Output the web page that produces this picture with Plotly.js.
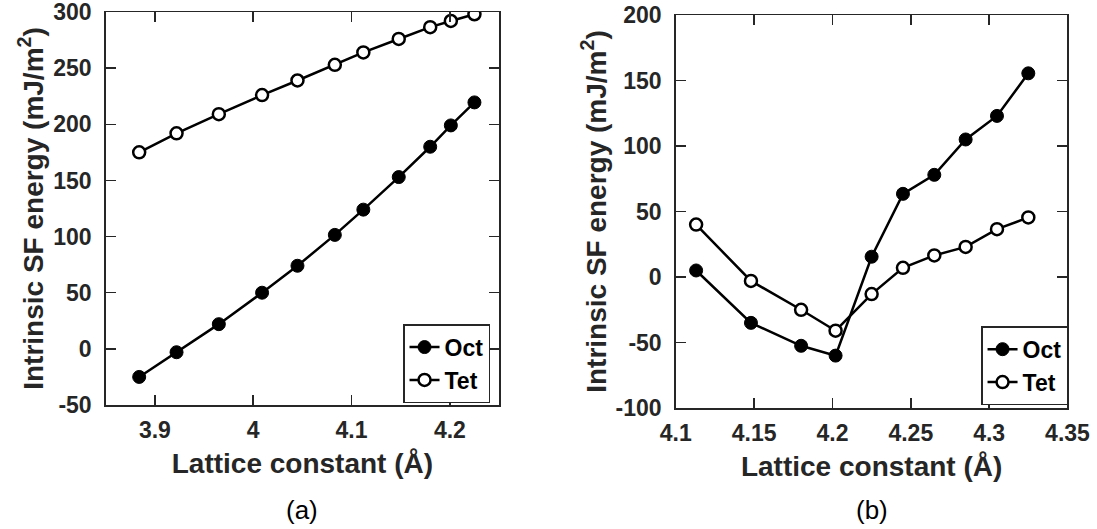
<!DOCTYPE html>
<html><head><meta charset="utf-8">
<script src="https://cdn.plot.ly/plotly-3.0.1.min.js"></script>
<style>html,body{margin:0;padding:0;background:#fff}</style>
</head><body><div id="chart" style="width:1097px;height:529px"></div>
<script>
// Panel (a)
const latticeA = [3.884, 3.922, 3.965, 4.009, 4.045, 4.083, 4.112, 4.148, 4.180, 4.201, 4.225];
const octA = [-25, -3, 22, 50, 74, 101.5, 124, 153, 180, 199, 219.5];
const tetA = [175, 192, 209, 226, 239, 253, 264, 276, 286.5, 292, 298];
// Panel (b)
const latticeB = [4.113, 4.148, 4.180, 4.202, 4.225, 4.245, 4.265, 4.285, 4.305, 4.325];
const octB = [5, -35, -52.5, -60, 15.5, 63.5, 78, 105, 123, 155.5];
const tetB = [40, -3, -25, -41, -13, 7, 16.5, 23, 36.5, 45.5];
const seriesNames = ['Oct', 'Tet'];
const xTickValsA = [3.9, 4, 4.1, 4.2];
const xTickTextA = ['3.9', '4', '4.1', '4.2'];
const yTickValsA = [-50, 0, 50, 100, 150, 200, 250, 300];
const yTickTextA = ['-50', '0', '50', '100', '150', '200', '250', '300'];
const xTickValsB = [4.1, 4.15, 4.2, 4.25, 4.3, 4.35];
const xTickTextB = ['4.1', '4.15', '4.2', '4.25', '4.3', '4.35'];
const yTickValsB = [-100, -50, 0, 50, 100, 150, 200];
const yTickTextB = ['-100', '-50', '0', '50', '100', '150', '200'];
const panelLabels = ['(a)', '(b)'];
const xTitle = 'Lattice constant (Å)';
const yTitle = 'Intrinsic SF energy (mJ/m<sup>2</sup>)';

const FONT = 'Liberation Sans, Arial, Helvetica, sans-serif';
const AX = '#262626';
const bold = arr => arr.map(s => '<b>' + s + '</b>');
const filled = {symbol: 'circle', size: 13, color: '#000', line: {color: '#000', width: 1}};
const open = {symbol: 'circle', size: 12, color: '#fff', line: {color: '#000', width: 2.5}};
const ln = {color: '#000', width: 2.5};

const traces = [
  {x: latticeA, y: octA, name: seriesNames[0], mode: 'lines+markers', line: ln, marker: filled, xaxis: 'x', yaxis: 'y', legend: 'legend'},
  {x: latticeA, y: tetA, name: seriesNames[1], mode: 'lines+markers', line: ln, marker: open, xaxis: 'x', yaxis: 'y', legend: 'legend'},
  {x: latticeB, y: octB, name: seriesNames[0], mode: 'lines+markers', line: ln, marker: filled, xaxis: 'x2', yaxis: 'y2', legend: 'legend2'},
  {x: latticeB, y: tetB, name: seriesNames[1], mode: 'lines+markers', line: ln, marker: open, xaxis: 'x2', yaxis: 'y2', legend: 'legend2'}
];

function axisBase(standoff) {
  return {
    showline: true, linecolor: AX, linewidth: 1.5, mirror: 'ticks',
    ticks: 'inside', ticklen: 10, tickwidth: 1.5, tickcolor: AX,
    showgrid: false, zeroline: false, automargin: false, ticklabeloverflow: 'allow',
    tickmode: 'array', ticklabelstandoff: standoff,
    tickfont: {family: FONT, size: 23, color: AX, weight: 700}
  };
}
const titleFont = {family: FONT, size: 28, color: AX, weight: 700};

const legendBase = {
  xanchor: 'right', yanchor: 'bottom', bgcolor: '#fff',
  bordercolor: AX, borderwidth: 1.5, tracegroupgap: 0, itemwidth: 30,
  font: {family: FONT, size: 23, color: '#000', weight: 700}
};

const layout = {
  width: 1097, height: 529,
  margin: {l: 0, r: 0, t: 0, b: 0},
  paper_bgcolor: '#fff', plot_bgcolor: '#fff',
  showlegend: true,
  xaxis: Object.assign(axisBase(4), {domain: [0.0964, 0.4549], range: [3.85, 4.25], anchor: 'y',
    tickvals: xTickValsA, ticktext: bold(xTickTextA), title: {text: xTitle, font: titleFont, standoff: 11}}),
  yaxis: Object.assign(axisBase(8), {domain: [0.2344, 0.9773], range: [-50, 300], anchor: 'x',
    tickvals: yTickValsA, ticktext: bold(yTickTextA), title: {text: yTitle, font: titleFont, standoff: 1}}),
  xaxis2: Object.assign(axisBase(4), {domain: [0.616, 0.9731], range: [4.1, 4.35], anchor: 'y2',
    tickvals: xTickValsB, ticktext: bold(xTickTextB), title: {text: xTitle, font: titleFont, standoff: 11}}),
  yaxis2: Object.assign(axisBase(8), {domain: [0.2287, 0.9716], range: [-100, 200], anchor: 'x2',
    tickvals: yTickValsB, ticktext: bold(yTickTextB), title: {text: yTitle, font: titleFont, standoff: 1}}),
  legend: Object.assign({}, legendBase, {x: 0.4467, y: 0.238}),
  legend2: Object.assign({}, legendBase, {x: 0.9736, y: 0.234}),
  annotations: [
    {text: panelLabels[0], xref: 'paper', yref: 'paper', x: 0.2753, y: 0.036, showarrow: false,
     xanchor: 'center', yanchor: 'middle', font: {family: FONT, size: 26, color: '#000'}},
    {text: panelLabels[1], xref: 'paper', yref: 'paper', x: 0.7945, y: 0.036, showarrow: false,
     xanchor: 'center', yanchor: 'middle', font: {family: FONT, size: 26, color: '#000'}}
  ]
};

Plotly.newPlot('chart', traces, layout, {staticPlot: true, displayModeBar: false});
</script></body></html>
